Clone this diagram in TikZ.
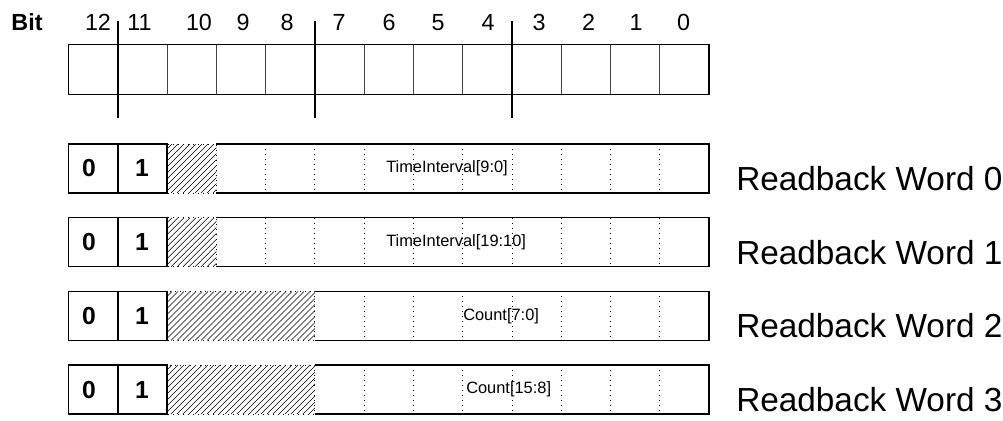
\documentclass[tikz,border=0pt]{standalone}
\usepackage{fontspec}
\setmainfont{Liberation Sans}

\begin{document}
\begin{tikzpicture}[x=0.75pt, y=-0.75pt,
    bitnum/.style={font=\fontsize{17.5}{20}\selectfont, anchor=base, inner sep=0pt},
    bitval/.style={font=\fontsize{18.5}{20}\selectfont\bfseries, inner sep=0pt},
    field/.style={font=\fontsize{12.3}{14}\selectfont, anchor=west, inner sep=0pt},
    wordname/.style={font=\fontsize{25}{28}\selectfont, anchor=base west, inner sep=0pt},
    frame/.style={line width=1.1pt},
    gridline/.style={line width=0.5pt, black!75},
    dotline/.style={line width=0.6pt, dash pattern=on 0.75pt off 3pt},
    hatchline/.style={line width=0.4pt}
]
\useasboundingbox (0,0) rectangle (1003,421);

% Bit numbers
\node[bitnum, font=\fontsize{17.5}{20}\selectfont\bfseries] (bit) at (27,31) {Bit};
\node[bitnum] (b12) at (98,31) {12};
\node[bitnum] (b11) at (139.5,31) {11};
\node[bitnum] (b10) at (199,31) {10};
\node[bitnum] (b9) at (243,31) {9};
\node[bitnum] (b8) at (287,31) {8};
\node[bitnum] (b7) at (339,31) {7};
\node[bitnum] (b6) at (389,31) {6};
\node[bitnum] (b5) at (438,31) {5};
\node[bitnum] (b4) at (488,31) {4};
\node[bitnum] (b3) at (539,31) {3};
\node[bitnum] (b2) at (588.5,31) {2};
\node[bitnum] (b1) at (636,31) {1};
\node[bitnum] (b0) at (683.5,31) {0};

% Register cells
\foreach \k in {2,3,4,6,7,8,10,11,12}
    \draw[gridline] (68.5+\k*49.27,44.3) -- (68.5+\k*49.27,94.3);
\draw[frame] (68.5,44.3) rectangle (709,94.3);

% Nibble borders
\foreach \k in {1,5,9}
    \draw[frame] (68.5+\k*49.27,21) -- (68.5+\k*49.27,118);

% Readback words
\foreach \r/\top/\hk/\fx/\fld in {0/144/3/386/TimeInterval[9:0],
        1/217.7/3/386/TimeInterval[19:10],
        2/291.4/5/463/Count[7:0],
        3/365.1/5/466/Count[15:8]} {
    \pgfmathsetmacro\bot{\top+49}
    \pgfmathsetmacro\mid{\top+24.5}
    \pgfmathsetmacro\hx{68.5+\hk*49.27}
    \pgfmathtruncatemacro\kk{\hk+1}
    % unused bits
    \begin{scope}
        \clip (167,\top) rectangle (\hx,\bot);
        \foreach \d in {-50,-44,...,150}
            \draw[hatchline] (167+\d,\bot) -- ++(49,-49);
    \end{scope}
    \draw[dotline] (167,\top) rectangle (\hx,\bot);
    % fixed bits and frame
    \draw[frame] (68.5,\top) rectangle (167,\bot);
    \draw[frame] (117.8,\top) -- (117.8,\bot);
    \draw[frame] (\hx,\top) -- (709,\top) -- (709,\bot) -- (\hx,\bot);
    \foreach \k in {\kk,...,12}
        \draw[dotline] (68.5+\k*49.27,\top) -- (68.5+\k*49.27,\bot);
    \node[bitval] (zero\r) at (89,\mid) {0};
    \node[bitval] (one\r) at (142,\mid) {1};
    \node[field] (fld\r) at (\fx,\mid) {\fld};
    \node[wordname] (word\r) at (736,\top+46.5) {Readback Word \r};
}

\end{tikzpicture}
\end{document}
